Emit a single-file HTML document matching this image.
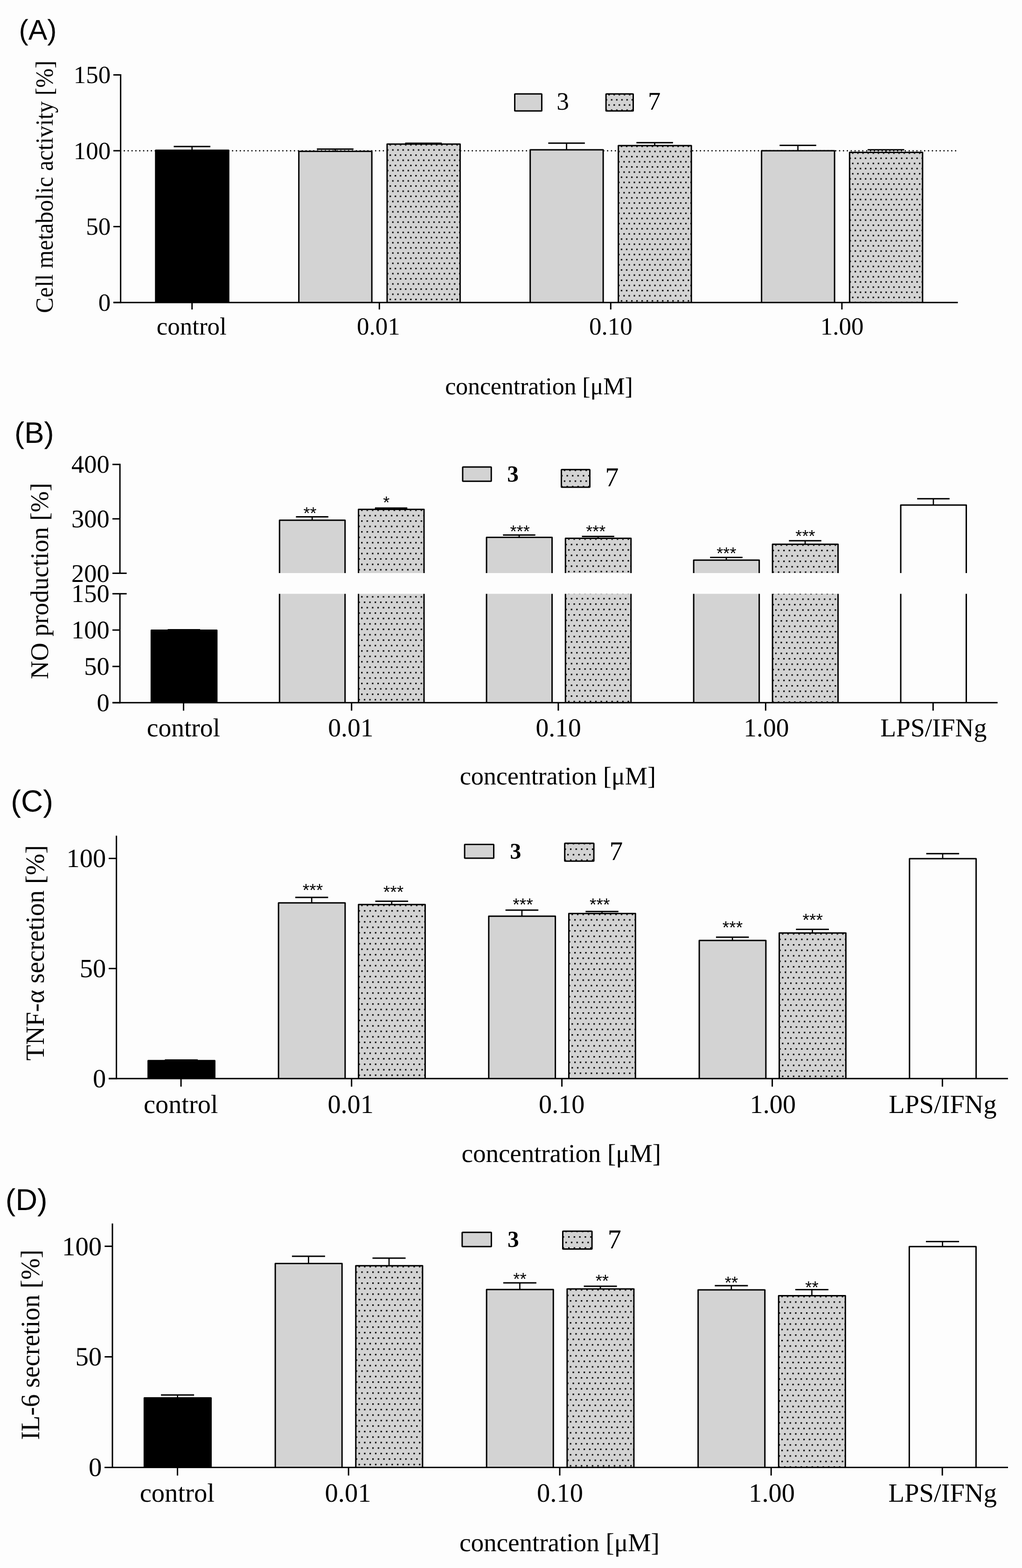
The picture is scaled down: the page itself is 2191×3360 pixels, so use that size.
<!DOCTYPE html>
<html lang="en">
<head>
<meta charset="utf-8">
<title>Figure: cell metabolic activity, NO production, TNF-α and IL-6 secretion</title>
<style>
html,body{margin:0;padding:0;background:#fdfdfd;}
body{width:2191px;height:3360px;}
svg{display:block;}
text{fill:#000;white-space:pre;text-rendering:geometricPrecision;}
</style>
</head>
<body>
<svg width="2191" height="3360" viewBox="0 0 2191 3360">
<defs><pattern id="pa" patternUnits="userSpaceOnUse" x="-1.6" y="-1.6" width="11.04" height="22.08"><rect x="0" y="0" width="3.2" height="3.2" rx="0.5" fill="#000"/><rect x="5.52" y="11.04" width="3.2" height="3.2" rx="0.5" fill="#000"/></pattern><pattern id="pb" patternUnits="userSpaceOnUse" x="-1.6" y="-1.6" width="11.6" height="23.2"><rect x="0" y="0" width="3.2" height="3.2" rx="0.5" fill="#000"/><rect x="5.8" y="11.6" width="3.2" height="3.2" rx="0.5" fill="#000"/></pattern><pattern id="pc" patternUnits="userSpaceOnUse" x="-1.6" y="-1.6" width="11.74" height="23.48"><rect x="0" y="0" width="3.2" height="3.2" rx="0.5" fill="#000"/><rect x="5.87" y="11.74" width="3.2" height="3.2" rx="0.5" fill="#000"/></pattern><pattern id="pd" patternUnits="userSpaceOnUse" x="-1.6" y="-1.6" width="11.78" height="23.56"><rect x="0" y="0" width="3.2" height="3.2" rx="0.5" fill="#000"/><rect x="5.89" y="11.78" width="3.2" height="3.2" rx="0.5" fill="#000"/></pattern></defs>
<rect width="2191" height="3360" fill="#fdfdfd"/>
<text x="40.44" y="84.9" style='font-family:"Liberation Sans", "DejaVu Sans", sans-serif;font-size:60.92px'>(A)</text>
<text transform="translate(112.5 670.66) rotate(-90) scale(0.9398 1)" style='font-family:"Liberation Serif", "DejaVu Serif", serif;font-size:53px'>Cell metabolic activity [%]</text>
<line x1="266.55" y1="323.05" x2="2052" y2="323.05" stroke="#000" stroke-width="3" stroke-linecap="round" stroke-dasharray="0 8.289"/>
<line x1="372.45" y1="313.9" x2="450.95" y2="313.9" stroke="#000" stroke-width="3"/>
<line x1="411.7" y1="313.9" x2="411.7" y2="322" stroke="#000" stroke-width="2.7"/>
<rect x="333.75" y="322" width="156.5" height="326.2" fill="#000"/>
<path d="M333.75 648.2V322H490.25V648.2" fill="none" stroke="#000" stroke-width="3" stroke-linejoin="round"/>
<line x1="679.35" y1="319.6" x2="757.85" y2="319.6" stroke="#000" stroke-width="3"/>
<line x1="718.6" y1="319.6" x2="718.6" y2="324.2" stroke="#000" stroke-width="2.7"/>
<rect x="640.65" y="324.2" width="156.5" height="324" fill="#d3d3d3"/>
<path d="M640.65 648.2V324.2H797.15V648.2" fill="none" stroke="#000" stroke-width="3" stroke-linejoin="round"/>
<line x1="868.6" y1="306.9" x2="947.1" y2="306.9" stroke="#000" stroke-width="3"/>
<line x1="907.85" y1="306.9" x2="907.85" y2="308.7" stroke="#000" stroke-width="2.7"/>
<rect x="829.9" y="308.7" width="156.5" height="339.5" fill="#d3d3d3"/>
<g transform="translate(836.68 310.4)"><rect x="-6.78" y="-1.7" width="156.5" height="339.5" fill="url(#pa)"/></g>
<path d="M829.9 648.2V308.7H986.4V648.2" fill="none" stroke="#000" stroke-width="3" stroke-linejoin="round"/>
<line x1="1175.35" y1="306.8" x2="1253.85" y2="306.8" stroke="#000" stroke-width="3"/>
<line x1="1214.6" y1="306.8" x2="1214.6" y2="321.1" stroke="#000" stroke-width="2.7"/>
<rect x="1136.65" y="321.1" width="156.5" height="327.1" fill="#d3d3d3"/>
<path d="M1136.65 648.2V321.1H1293.15V648.2" fill="none" stroke="#000" stroke-width="3" stroke-linejoin="round"/>
<line x1="1364.35" y1="305.7" x2="1442.85" y2="305.7" stroke="#000" stroke-width="3"/>
<line x1="1403.6" y1="305.7" x2="1403.6" y2="311.9" stroke="#000" stroke-width="2.7"/>
<rect x="1325.65" y="311.9" width="156.5" height="336.3" fill="#d3d3d3"/>
<g transform="translate(1332.43 313.6)"><rect x="-6.78" y="-1.7" width="156.5" height="336.3" fill="url(#pa)"/></g>
<path d="M1325.65 648.2V311.9H1482.15V648.2" fill="none" stroke="#000" stroke-width="3" stroke-linejoin="round"/>
<line x1="1671.35" y1="311.5" x2="1749.85" y2="311.5" stroke="#000" stroke-width="3"/>
<line x1="1710.6" y1="311.5" x2="1710.6" y2="323.1" stroke="#000" stroke-width="2.7"/>
<rect x="1632.65" y="323.1" width="156.5" height="325.1" fill="#d3d3d3"/>
<path d="M1632.65 648.2V323.1H1789.15V648.2" fill="none" stroke="#000" stroke-width="3" stroke-linejoin="round"/>
<line x1="1860.05" y1="321.1" x2="1938.55" y2="321.1" stroke="#000" stroke-width="3"/>
<line x1="1899.3" y1="321.1" x2="1899.3" y2="326.5" stroke="#000" stroke-width="2.7"/>
<rect x="1821.35" y="326.5" width="156.5" height="321.7" fill="#d3d3d3"/>
<g transform="translate(1828.13 328.2)"><rect x="-6.78" y="-1.7" width="156.5" height="321.7" fill="url(#pa)"/></g>
<path d="M1821.35 648.2V326.5H1977.85V648.2" fill="none" stroke="#000" stroke-width="3" stroke-linejoin="round"/>
<line x1="258.6" y1="159" x2="258.6" y2="649.7" stroke="#000" stroke-width="3"/>
<line x1="243" y1="648.2" x2="2053.5" y2="648.2" stroke="#000" stroke-width="3"/>
<line x1="243" y1="160.5" x2="258.6" y2="160.5" stroke="#000" stroke-width="3"/>
<text x="157.66" y="178.19" style='font-family:"Liberation Serif", "DejaVu Serif", serif;font-size:53px'>150</text>
<line x1="243" y1="323" x2="258.6" y2="323" stroke="#000" stroke-width="3"/>
<text x="157.66" y="340.69" style='font-family:"Liberation Serif", "DejaVu Serif", serif;font-size:53px'>100</text>
<line x1="243" y1="485.6" x2="258.6" y2="485.6" stroke="#000" stroke-width="3"/>
<text x="184.16" y="503.29" style='font-family:"Liberation Serif", "DejaVu Serif", serif;font-size:53px'>50</text>
<line x1="243" y1="648.2" x2="258.6" y2="648.2" stroke="#000" stroke-width="3"/>
<text x="210.66" y="665.89" style='font-family:"Liberation Serif", "DejaVu Serif", serif;font-size:53px'>0</text>
<line x1="411.7" y1="648.2" x2="411.7" y2="663.2" stroke="#000" stroke-width="3"/>
<text x="335.68" y="716.6" style='font-family:"Liberation Serif", "DejaVu Serif", serif;font-size:53px'>control</text>
<line x1="813.3" y1="648.2" x2="813.3" y2="663.2" stroke="#000" stroke-width="3"/>
<text x="765.04" y="716.6" style='font-family:"Liberation Serif", "DejaVu Serif", serif;font-size:53px'>0.01</text>
<line x1="1309.3" y1="648.2" x2="1309.3" y2="663.2" stroke="#000" stroke-width="3"/>
<text x="1262.88" y="716.6" style='font-family:"Liberation Serif", "DejaVu Serif", serif;font-size:53px'>0.10</text>
<line x1="1804.9" y1="648.2" x2="1804.9" y2="663.2" stroke="#000" stroke-width="3"/>
<text x="1758.63" y="716.6" style='font-family:"Liberation Serif", "DejaVu Serif", serif;font-size:53px'>1.00</text>
<text x="954.17" y="845.2" style='font-family:"Liberation Serif", "DejaVu Serif", serif;font-size:52.2px;letter-spacing:-0.21px'>concentration [μM]</text>
<rect x="1103.55" y="201.2" width="57.9" height="36.45" fill="#d3d3d3"/>
<rect x="1103.55" y="201.2" width="57.9" height="36.45" rx="1" fill="none" stroke="#000" stroke-width="3"/>
<rect x="1299.2" y="201.2" width="58.3" height="36.45" fill="#d3d3d3"/>
<g transform="translate(1311.26 213.96)"><rect x="-12.06" y="-12.76" width="58.3" height="36.45" fill="url(#pa)"/></g>
<rect x="1299.2" y="201.2" width="58.3" height="36.45" rx="1" fill="none" stroke="#000" stroke-width="3"/>
<text x="1193.3" y="234.56" style='font-family:"Liberation Serif", "DejaVu Serif", serif;font-size:53.53px'>3</text>
<text x="1389.09" y="235.2" style='font-family:"Liberation Serif", "DejaVu Serif", serif;font-size:54.7px'>7</text>
<text x="31.12" y="949" style='font-family:"Liberation Sans", "DejaVu Sans", sans-serif;font-size:63.51px'>(B)</text>
<text transform="translate(102.7 1455.35) rotate(-90) scale(0.9925 1)" style='font-family:"Liberation Serif", "DejaVu Serif", serif;font-size:54.5px'>NO production [%]</text>
<line x1="359.55" y1="1349.5" x2="429.05" y2="1349.5" stroke="#000" stroke-width="3"/>
<rect x="324.35" y="1350.4" width="140.5" height="155.4" fill="#000"/>
<path d="M324.35 1505.8V1350.4H464.85V1505.8" fill="none" stroke="#000" stroke-width="3" stroke-linejoin="round"/>
<line x1="634.45" y1="1107.4" x2="703.95" y2="1107.4" stroke="#000" stroke-width="3"/>
<line x1="669.2" y1="1107.4" x2="669.2" y2="1114.7" stroke="#000" stroke-width="2.7"/>
<rect x="599.25" y="1114.7" width="140.5" height="391.1" fill="#d3d3d3"/>
<path d="M599.25 1505.8V1114.7H739.75V1505.8" fill="none" stroke="#000" stroke-width="3" stroke-linejoin="round"/>
<line x1="803.75" y1="1088.8" x2="873.25" y2="1088.8" stroke="#000" stroke-width="3"/>
<line x1="838.5" y1="1088.8" x2="838.5" y2="1091.5" stroke="#000" stroke-width="2.7"/>
<rect x="768.55" y="1091.5" width="140.5" height="414.3" fill="#d3d3d3"/>
<g transform="translate(775.75 1093.36)"><rect x="-7.2" y="-1.86" width="140.5" height="414.3" fill="url(#pb)"/></g>
<path d="M768.55 1505.8V1091.5H909.05V1505.8" fill="none" stroke="#000" stroke-width="3" stroke-linejoin="round"/>
<line x1="1078.25" y1="1146.6" x2="1147.75" y2="1146.6" stroke="#000" stroke-width="3"/>
<line x1="1113" y1="1146.6" x2="1113" y2="1151.5" stroke="#000" stroke-width="2.7"/>
<rect x="1043.05" y="1151.5" width="140.5" height="354.3" fill="#d3d3d3"/>
<path d="M1043.05 1505.8V1151.5H1183.55V1505.8" fill="none" stroke="#000" stroke-width="3" stroke-linejoin="round"/>
<line x1="1247.45" y1="1149.5" x2="1316.95" y2="1149.5" stroke="#000" stroke-width="3"/>
<line x1="1282.2" y1="1149.5" x2="1282.2" y2="1153.4" stroke="#000" stroke-width="2.7"/>
<rect x="1212.25" y="1153.4" width="140.5" height="352.4" fill="#d3d3d3"/>
<g transform="translate(1219.45 1155.26)"><rect x="-7.2" y="-1.86" width="140.5" height="352.4" fill="url(#pb)"/></g>
<path d="M1212.25 1505.8V1153.4H1352.75V1505.8" fill="none" stroke="#000" stroke-width="3" stroke-linejoin="round"/>
<line x1="1522.35" y1="1194.4" x2="1591.85" y2="1194.4" stroke="#000" stroke-width="3"/>
<line x1="1557.1" y1="1194.4" x2="1557.1" y2="1200.2" stroke="#000" stroke-width="2.7"/>
<rect x="1487.15" y="1200.2" width="140.5" height="305.6" fill="#d3d3d3"/>
<path d="M1487.15 1505.8V1200.2H1627.65V1505.8" fill="none" stroke="#000" stroke-width="3" stroke-linejoin="round"/>
<line x1="1691.35" y1="1158.8" x2="1760.85" y2="1158.8" stroke="#000" stroke-width="3"/>
<line x1="1726.1" y1="1158.8" x2="1726.1" y2="1166.2" stroke="#000" stroke-width="2.7"/>
<rect x="1656.15" y="1166.2" width="140.5" height="339.6" fill="#d3d3d3"/>
<g transform="translate(1663.35 1168.06)"><rect x="-7.2" y="-1.86" width="140.5" height="339.6" fill="url(#pb)"/></g>
<path d="M1656.15 1505.8V1166.2H1796.65V1505.8" fill="none" stroke="#000" stroke-width="3" stroke-linejoin="round"/>
<line x1="1966.25" y1="1068.7" x2="2035.75" y2="1068.7" stroke="#000" stroke-width="3"/>
<line x1="2001" y1="1068.7" x2="2001" y2="1082.3" stroke="#000" stroke-width="2.7"/>
<path d="M1931.05 1505.8V1082.3H2071.55V1505.8" fill="none" stroke="#000" stroke-width="3" stroke-linejoin="round"/>
<rect x="280" y="1228" width="1850" height="44.5" fill="#fdfdfd"/>
<line x1="257.1" y1="993.7" x2="257.1" y2="1228.4" stroke="#000" stroke-width="3"/>
<line x1="257.1" y1="1272.3" x2="257.1" y2="1507.3" stroke="#000" stroke-width="3"/>
<line x1="241" y1="1505.8" x2="2138.7" y2="1505.8" stroke="#000" stroke-width="3"/>
<line x1="241" y1="995.2" x2="257.1" y2="995.2" stroke="#000" stroke-width="3"/>
<text x="152.95" y="1013.38" style='font-family:"Liberation Serif", "DejaVu Serif", serif;font-size:54.5px'>400</text>
<line x1="241" y1="1111.8" x2="257.1" y2="1111.8" stroke="#000" stroke-width="3"/>
<text x="152.95" y="1129.98" style='font-family:"Liberation Serif", "DejaVu Serif", serif;font-size:54.5px'>300</text>
<line x1="241" y1="1228.4" x2="271.6" y2="1228.4" stroke="#000" stroke-width="3"/>
<text x="152.95" y="1246.58" style='font-family:"Liberation Serif", "DejaVu Serif", serif;font-size:54.5px'>200</text>
<line x1="241" y1="1272.3" x2="271.6" y2="1272.3" stroke="#000" stroke-width="3"/>
<text x="152.95" y="1290.48" style='font-family:"Liberation Serif", "DejaVu Serif", serif;font-size:54.5px'>150</text>
<line x1="241" y1="1350.1" x2="257.1" y2="1350.1" stroke="#000" stroke-width="3"/>
<text x="152.95" y="1368.28" style='font-family:"Liberation Serif", "DejaVu Serif", serif;font-size:54.5px'>100</text>
<line x1="241" y1="1428.1" x2="257.1" y2="1428.1" stroke="#000" stroke-width="3"/>
<text x="180.2" y="1446.28" style='font-family:"Liberation Serif", "DejaVu Serif", serif;font-size:54.5px'>50</text>
<line x1="241" y1="1505.8" x2="257.1" y2="1505.8" stroke="#000" stroke-width="3"/>
<text x="207.45" y="1523.98" style='font-family:"Liberation Serif", "DejaVu Serif", serif;font-size:54.5px'>0</text>
<line x1="393.5" y1="1505.8" x2="393.5" y2="1522.8" stroke="#000" stroke-width="3"/>
<text x="314.77" y="1578.3" style='font-family:"Liberation Serif", "DejaVu Serif", serif;font-size:55.5px'>control</text>
<line x1="753.7" y1="1505.8" x2="753.7" y2="1522.8" stroke="#000" stroke-width="3"/>
<text x="703.32" y="1578.3" style='font-family:"Liberation Serif", "DejaVu Serif", serif;font-size:55.5px'>0.01</text>
<line x1="1196.9" y1="1505.8" x2="1196.9" y2="1522.8" stroke="#000" stroke-width="3"/>
<text x="1148.54" y="1578.3" style='font-family:"Liberation Serif", "DejaVu Serif", serif;font-size:55.5px'>0.10</text>
<line x1="1641.4" y1="1505.8" x2="1641.4" y2="1522.8" stroke="#000" stroke-width="3"/>
<text x="1594.29" y="1578.3" style='font-family:"Liberation Serif", "DejaVu Serif", serif;font-size:55.5px'>1.00</text>
<line x1="2000.4" y1="1505.8" x2="2000.4" y2="1522.8" stroke="#000" stroke-width="3"/>
<text x="1887.18" y="1578.3" style='font-family:"Liberation Serif", "DejaVu Serif", serif;font-size:55.5px'>LPS/IFNg</text>
<text x="985.7" y="1680.6" style='font-family:"Liberation Serif", "DejaVu Serif", serif;font-size:54.3px;letter-spacing:-0.13px'>concentration [μM]</text>
<text x="650.39" y="1112.46" style='font-family:"Liberation Sans", "DejaVu Sans", sans-serif;font-size:36.18px'>**</text>
<text x="821.23" y="1089.46" style='font-family:"Liberation Sans", "DejaVu Sans", sans-serif;font-size:36.18px'>*</text>
<text x="1093.55" y="1151.26" style='font-family:"Liberation Sans", "DejaVu Sans", sans-serif;font-size:36.18px'>***</text>
<text x="1256.15" y="1151.26" style='font-family:"Liberation Sans", "DejaVu Sans", sans-serif;font-size:36.18px'>***</text>
<text x="1536.25" y="1197.66" style='font-family:"Liberation Sans", "DejaVu Sans", sans-serif;font-size:36.18px'>***</text>
<text x="1705.35" y="1161.46" style='font-family:"Liberation Sans", "DejaVu Sans", sans-serif;font-size:36.18px'>***</text>
<rect x="991.9" y="1000.75" width="61.3" height="30.4" fill="#d3d3d3"/>
<rect x="991.9" y="1000.75" width="61.3" height="30.4" rx="1" fill="none" stroke="#000" stroke-width="3"/>
<rect x="1203.5" y="1006.3" width="61" height="37.8" fill="#d3d3d3"/>
<g transform="translate(1216.13 1019.43)"><rect x="-12.63" y="-13.13" width="61" height="37.8" fill="url(#pb)"/></g>
<rect x="1203.5" y="1006.3" width="61" height="37.8" rx="1" fill="none" stroke="#000" stroke-width="3"/>
<text x="1087.37" y="1032.13" style='font-family:"Liberation Serif", "DejaVu Serif", serif;font-size:49.31px;font-weight:bold'>3</text>
<text x="1297.34" y="1042.2" style='font-family:"Liberation Serif", "DejaVu Serif", serif;font-size:58.36px'>7</text>
<text x="23.24" y="1738.7" style='font-family:"Liberation Sans", "DejaVu Sans", sans-serif;font-size:65.37px'>(C)</text>
<text transform="translate(93.8 2272.86) rotate(-90) scale(0.9783 1)" style='font-family:"Liberation Serif", "DejaVu Serif", serif;font-size:56.5px'>TNF-α secretion [%]</text>
<line x1="353.45" y1="2271.6" x2="423.95" y2="2271.6" stroke="#000" stroke-width="3"/>
<line x1="388.7" y1="2271.6" x2="388.7" y2="2272.7" stroke="#000" stroke-width="2.7"/>
<rect x="317.6" y="2272.7" width="142.8" height="38.55" fill="#000"/>
<path d="M317.6 2311.25V2272.7H460.4V2311.25" fill="none" stroke="#000" stroke-width="3" stroke-linejoin="round"/>
<line x1="632.95" y1="1923.1" x2="703.45" y2="1923.1" stroke="#000" stroke-width="3"/>
<line x1="668.2" y1="1923.1" x2="668.2" y2="1934.7" stroke="#000" stroke-width="2.7"/>
<rect x="597.1" y="1934.7" width="142.8" height="376.55" fill="#d3d3d3"/>
<path d="M597.1 2311.25V1934.7H739.9V2311.25" fill="none" stroke="#000" stroke-width="3" stroke-linejoin="round"/>
<line x1="804.5" y1="1931.3" x2="875" y2="1931.3" stroke="#000" stroke-width="3"/>
<line x1="839.75" y1="1931.3" x2="839.75" y2="1938.2" stroke="#000" stroke-width="2.7"/>
<rect x="768.65" y="1938.2" width="142.8" height="373.05" fill="#d3d3d3"/>
<g transform="translate(775.95 1940.1)"><rect x="-7.3" y="-1.9" width="142.8" height="373.05" fill="url(#pc)"/></g>
<path d="M768.65 2311.25V1938.2H911.45V2311.25" fill="none" stroke="#000" stroke-width="3" stroke-linejoin="round"/>
<line x1="1083.65" y1="1950.2" x2="1154.15" y2="1950.2" stroke="#000" stroke-width="3"/>
<line x1="1118.9" y1="1950.2" x2="1118.9" y2="1963.3" stroke="#000" stroke-width="2.7"/>
<rect x="1047.8" y="1963.3" width="142.8" height="347.95" fill="#d3d3d3"/>
<path d="M1047.8 2311.25V1963.3H1190.6V2311.25" fill="none" stroke="#000" stroke-width="3" stroke-linejoin="round"/>
<line x1="1255.35" y1="1953.2" x2="1325.85" y2="1953.2" stroke="#000" stroke-width="3"/>
<line x1="1290.6" y1="1953.2" x2="1290.6" y2="1957.5" stroke="#000" stroke-width="2.7"/>
<rect x="1219.5" y="1957.5" width="142.8" height="353.75" fill="#d3d3d3"/>
<g transform="translate(1226.81 1959.4)"><rect x="-7.31" y="-1.9" width="142.8" height="353.75" fill="url(#pc)"/></g>
<path d="M1219.5 2311.25V1957.5H1362.3V2311.25" fill="none" stroke="#000" stroke-width="3" stroke-linejoin="round"/>
<line x1="1534.95" y1="2008.2" x2="1605.45" y2="2008.2" stroke="#000" stroke-width="3"/>
<line x1="1570.2" y1="2008.2" x2="1570.2" y2="2015.2" stroke="#000" stroke-width="2.7"/>
<rect x="1499.1" y="2015.2" width="142.8" height="296.05" fill="#d3d3d3"/>
<path d="M1499.1 2311.25V2015.2H1641.9V2311.25" fill="none" stroke="#000" stroke-width="3" stroke-linejoin="round"/>
<line x1="1706.45" y1="1991.6" x2="1776.95" y2="1991.6" stroke="#000" stroke-width="3"/>
<line x1="1741.7" y1="1991.6" x2="1741.7" y2="1999.3" stroke="#000" stroke-width="2.7"/>
<rect x="1670.6" y="1999.3" width="142.8" height="311.95" fill="#d3d3d3"/>
<g transform="translate(1677.9 2001.2)"><rect x="-7.31" y="-1.9" width="142.8" height="311.95" fill="url(#pc)"/></g>
<path d="M1670.6 2311.25V1999.3H1813.4V2311.25" fill="none" stroke="#000" stroke-width="3" stroke-linejoin="round"/>
<line x1="1985.7" y1="1829.2" x2="2056.2" y2="1829.2" stroke="#000" stroke-width="3"/>
<line x1="2020.95" y1="1829.2" x2="2020.95" y2="1840" stroke="#000" stroke-width="2.7"/>
<path d="M1949.85 2311.25V1840H2092.65V2311.25" fill="none" stroke="#000" stroke-width="3" stroke-linejoin="round"/>
<line x1="249.6" y1="1790.7" x2="249.6" y2="2312.75" stroke="#000" stroke-width="3"/>
<line x1="233.05" y1="2311.25" x2="2160.95" y2="2311.25" stroke="#000" stroke-width="3"/>
<line x1="233.05" y1="1839.5" x2="249.6" y2="1839.5" stroke="#000" stroke-width="3"/>
<text x="142.42" y="1858.34" style='font-family:"Liberation Serif", "DejaVu Serif", serif;font-size:56.5px'>100</text>
<line x1="233.05" y1="2075.4" x2="249.6" y2="2075.4" stroke="#000" stroke-width="3"/>
<text x="170.67" y="2094.24" style='font-family:"Liberation Serif", "DejaVu Serif", serif;font-size:56.5px'>50</text>
<line x1="233.05" y1="2311.25" x2="249.6" y2="2311.25" stroke="#000" stroke-width="3"/>
<text x="198.92" y="2330.09" style='font-family:"Liberation Serif", "DejaVu Serif", serif;font-size:56.5px'>0</text>
<line x1="388.05" y1="2311.25" x2="388.05" y2="2328.55" stroke="#000" stroke-width="3"/>
<text x="308.03" y="2384.5" style='font-family:"Liberation Serif", "DejaVu Serif", serif;font-size:56.3px'>control</text>
<line x1="753.7" y1="2311.25" x2="753.7" y2="2328.55" stroke="#000" stroke-width="3"/>
<text x="702.38" y="2384.5" style='font-family:"Liberation Serif", "DejaVu Serif", serif;font-size:56.3px'>0.01</text>
<line x1="1204.6" y1="2311.25" x2="1204.6" y2="2328.55" stroke="#000" stroke-width="3"/>
<text x="1154.99" y="2384.5" style='font-family:"Liberation Serif", "DejaVu Serif", serif;font-size:56.3px'>0.10</text>
<line x1="1655.6" y1="2311.25" x2="1655.6" y2="2328.55" stroke="#000" stroke-width="3"/>
<text x="1607.52" y="2384.5" style='font-family:"Liberation Serif", "DejaVu Serif", serif;font-size:56.3px'>1.00</text>
<line x1="2020.4" y1="2311.25" x2="2020.4" y2="2328.55" stroke="#000" stroke-width="3"/>
<text x="1905.16" y="2384.5" style='font-family:"Liberation Serif", "DejaVu Serif", serif;font-size:56.3px'>LPS/IFNg</text>
<text x="989.57" y="2489.8" style='font-family:"Liberation Serif", "DejaVu Serif", serif;font-size:55.2px;letter-spacing:-0.12px'>concentration [μM]</text>
<text x="648.79" y="1919.84" style='font-family:"Liberation Sans", "DejaVu Sans", sans-serif;font-size:37.31px'>***</text>
<text x="821.69" y="1923.54" style='font-family:"Liberation Sans", "DejaVu Sans", sans-serif;font-size:37.31px'>***</text>
<text x="1099.19" y="1950.84" style='font-family:"Liberation Sans", "DejaVu Sans", sans-serif;font-size:37.31px'>***</text>
<text x="1263.99" y="1950.84" style='font-family:"Liberation Sans", "DejaVu Sans", sans-serif;font-size:37.31px'>***</text>
<text x="1548.69" y="2000.24" style='font-family:"Liberation Sans", "DejaVu Sans", sans-serif;font-size:37.31px'>***</text>
<text x="1720.59" y="1984.04" style='font-family:"Liberation Sans", "DejaVu Sans", sans-serif;font-size:37.31px'>***</text>
<rect x="996.1" y="1809.4" width="62.4" height="29.7" fill="#d3d3d3"/>
<rect x="996.1" y="1809.4" width="62.4" height="29.7" rx="1" fill="none" stroke="#000" stroke-width="3"/>
<rect x="1210.7" y="1807" width="62.4" height="38.3" fill="#d3d3d3"/>
<g transform="translate(1223.56 1819.69)"><rect x="-12.86" y="-12.69" width="62.4" height="38.3" fill="url(#pc)"/></g>
<rect x="1210.7" y="1807" width="62.4" height="38.3" rx="1" fill="none" stroke="#000" stroke-width="3"/>
<text x="1093.21" y="1840.25" style='font-family:"Liberation Serif", "DejaVu Serif", serif;font-size:48.15px;font-weight:bold'>3</text>
<text x="1306.6" y="1842.9" style='font-family:"Liberation Serif", "DejaVu Serif", serif;font-size:57.6px'>7</text>
<text x="11.87" y="2593.2" style='font-family:"Liberation Sans", "DejaVu Sans", sans-serif;font-size:64.67px'>(D)</text>
<text transform="translate(84.2 3085.62) rotate(-90) scale(0.9684 1)" style='font-family:"Liberation Serif", "DejaVu Serif", serif;font-size:57px'>IL-6 secretion [%]</text>
<line x1="345.1" y1="2989.3" x2="416.1" y2="2989.3" stroke="#000" stroke-width="3"/>
<line x1="380.6" y1="2989.3" x2="380.6" y2="2995.4" stroke="#000" stroke-width="2.7"/>
<rect x="309.35" y="2995.4" width="143.1" height="149.15" fill="#000"/>
<path d="M309.35 3144.55V2995.4H452.45V3144.55" fill="none" stroke="#000" stroke-width="3" stroke-linejoin="round"/>
<line x1="625.9" y1="2692.1" x2="696.9" y2="2692.1" stroke="#000" stroke-width="3"/>
<line x1="661.4" y1="2692.1" x2="661.4" y2="2707.6" stroke="#000" stroke-width="2.7"/>
<rect x="590.15" y="2707.6" width="143.1" height="436.95" fill="#d3d3d3"/>
<path d="M590.15 3144.55V2707.6H733.25V3144.55" fill="none" stroke="#000" stroke-width="3" stroke-linejoin="round"/>
<line x1="798.55" y1="2695.9" x2="869.55" y2="2695.9" stroke="#000" stroke-width="3"/>
<line x1="834.05" y1="2695.9" x2="834.05" y2="2712.3" stroke="#000" stroke-width="2.7"/>
<rect x="762.8" y="2712.3" width="143.1" height="432.25" fill="#d3d3d3"/>
<g transform="translate(770.14 2714.22)"><rect x="-7.34" y="-1.92" width="143.1" height="432.25" fill="url(#pd)"/></g>
<path d="M762.8 3144.55V2712.3H905.9V3144.55" fill="none" stroke="#000" stroke-width="3" stroke-linejoin="round"/>
<line x1="1078.9" y1="2748.9" x2="1149.9" y2="2748.9" stroke="#000" stroke-width="3"/>
<line x1="1114.4" y1="2748.9" x2="1114.4" y2="2763.2" stroke="#000" stroke-width="2.7"/>
<rect x="1043.15" y="2763.2" width="143.1" height="381.35" fill="#d3d3d3"/>
<path d="M1043.15 3144.55V2763.2H1186.25V3144.55" fill="none" stroke="#000" stroke-width="3" stroke-linejoin="round"/>
<line x1="1251.6" y1="2756.3" x2="1322.6" y2="2756.3" stroke="#000" stroke-width="3"/>
<line x1="1287.1" y1="2756.3" x2="1287.1" y2="2762.1" stroke="#000" stroke-width="2.7"/>
<rect x="1215.85" y="2762.1" width="143.1" height="382.45" fill="#d3d3d3"/>
<g transform="translate(1223.19 2764.02)"><rect x="-7.34" y="-1.92" width="143.1" height="382.45" fill="url(#pd)"/></g>
<path d="M1215.85 3144.55V2762.1H1358.95V3144.55" fill="none" stroke="#000" stroke-width="3" stroke-linejoin="round"/>
<line x1="1532.4" y1="2755.1" x2="1603.4" y2="2755.1" stroke="#000" stroke-width="3"/>
<line x1="1567.9" y1="2755.1" x2="1567.9" y2="2764" stroke="#000" stroke-width="2.7"/>
<rect x="1496.65" y="2764" width="143.1" height="380.55" fill="#d3d3d3"/>
<path d="M1496.65 3144.55V2764H1639.75V3144.55" fill="none" stroke="#000" stroke-width="3" stroke-linejoin="round"/>
<line x1="1705" y1="2763.6" x2="1776" y2="2763.6" stroke="#000" stroke-width="3"/>
<line x1="1740.5" y1="2763.6" x2="1740.5" y2="2776.4" stroke="#000" stroke-width="2.7"/>
<rect x="1669.25" y="2776.4" width="143.1" height="368.15" fill="#d3d3d3"/>
<g transform="translate(1676.59 2778.32)"><rect x="-7.34" y="-1.92" width="143.1" height="368.15" fill="url(#pd)"/></g>
<path d="M1669.25 3144.55V2776.4H1812.35V3144.55" fill="none" stroke="#000" stroke-width="3" stroke-linejoin="round"/>
<line x1="1985.1" y1="2660.4" x2="2056.1" y2="2660.4" stroke="#000" stroke-width="3"/>
<line x1="2020.6" y1="2660.4" x2="2020.6" y2="2671.2" stroke="#000" stroke-width="2.7"/>
<path d="M1949.35 3144.55V2671.2H2092.45V3144.55" fill="none" stroke="#000" stroke-width="3" stroke-linejoin="round"/>
<line x1="241" y1="2621.8" x2="241" y2="3146.05" stroke="#000" stroke-width="3"/>
<line x1="224.3" y1="3144.55" x2="2160.95" y2="3144.55" stroke="#000" stroke-width="3"/>
<line x1="224.3" y1="2670.6" x2="241" y2="2670.6" stroke="#000" stroke-width="3"/>
<text x="133.07" y="2689.54" style='font-family:"Liberation Serif", "DejaVu Serif", serif;font-size:56.8px'>100</text>
<line x1="224.3" y1="2907.5" x2="241" y2="2907.5" stroke="#000" stroke-width="3"/>
<text x="161.47" y="2926.44" style='font-family:"Liberation Serif", "DejaVu Serif", serif;font-size:56.8px'>50</text>
<line x1="224.3" y1="3144.55" x2="241" y2="3144.55" stroke="#000" stroke-width="3"/>
<text x="189.88" y="3163.49" style='font-family:"Liberation Serif", "DejaVu Serif", serif;font-size:56.8px'>0</text>
<line x1="380.5" y1="3144.55" x2="380.5" y2="3161.85" stroke="#000" stroke-width="3"/>
<text x="299.7" y="3218" style='font-family:"Liberation Serif", "DejaVu Serif", serif;font-size:56.6px'>control</text>
<line x1="747.2" y1="3144.55" x2="747.2" y2="3161.85" stroke="#000" stroke-width="3"/>
<text x="696.52" y="3218" style='font-family:"Liberation Serif", "DejaVu Serif", serif;font-size:56.6px'>0.01</text>
<line x1="1200" y1="3144.55" x2="1200" y2="3161.85" stroke="#000" stroke-width="3"/>
<text x="1151.03" y="3218" style='font-family:"Liberation Serif", "DejaVu Serif", serif;font-size:56.6px'>0.10</text>
<line x1="1653.2" y1="3144.55" x2="1653.2" y2="3161.85" stroke="#000" stroke-width="3"/>
<text x="1605.1" y="3218" style='font-family:"Liberation Serif", "DejaVu Serif", serif;font-size:56.6px'>1.00</text>
<line x1="2020.2" y1="3144.55" x2="2020.2" y2="3161.85" stroke="#000" stroke-width="3"/>
<text x="1904.42" y="3218" style='font-family:"Liberation Serif", "DejaVu Serif", serif;font-size:56.6px'>LPS/IFNg</text>
<text x="984.97" y="3323.6" style='font-family:"Liberation Serif", "DejaVu Serif", serif;font-size:55.4px;letter-spacing:-0.13px'>concentration [μM]</text>
<text x="1100.23" y="2752.97" style='font-family:"Liberation Sans", "DejaVu Sans", sans-serif;font-size:36.59px'>**</text>
<text x="1276.63" y="2756.67" style='font-family:"Liberation Sans", "DejaVu Sans", sans-serif;font-size:36.59px'>**</text>
<text x="1553.73" y="2760.77" style='font-family:"Liberation Sans", "DejaVu Sans", sans-serif;font-size:36.59px'>**</text>
<text x="1726.33" y="2771.17" style='font-family:"Liberation Sans", "DejaVu Sans", sans-serif;font-size:36.59px'>**</text>
<rect x="990.8" y="2640.75" width="62.6" height="30.4" fill="#d3d3d3"/>
<rect x="990.8" y="2640.75" width="62.6" height="30.4" rx="1" fill="none" stroke="#000" stroke-width="3"/>
<rect x="1206.5" y="2638.2" width="62.6" height="38.3" fill="#d3d3d3"/>
<g transform="translate(1219.61 2650.62)"><rect x="-13.11" y="-12.42" width="62.6" height="38.3" fill="url(#pd)"/></g>
<rect x="1206.5" y="2638.2" width="62.6" height="38.3" rx="1" fill="none" stroke="#000" stroke-width="3"/>
<text x="1088.07" y="2672.13" style='font-family:"Liberation Serif", "DejaVu Serif", serif;font-size:49.31px;font-weight:bold'>3</text>
<text x="1302.74" y="2674.5" style='font-family:"Liberation Serif", "DejaVu Serif", serif;font-size:58.36px'>7</text>
</svg>
</body>
</html>
